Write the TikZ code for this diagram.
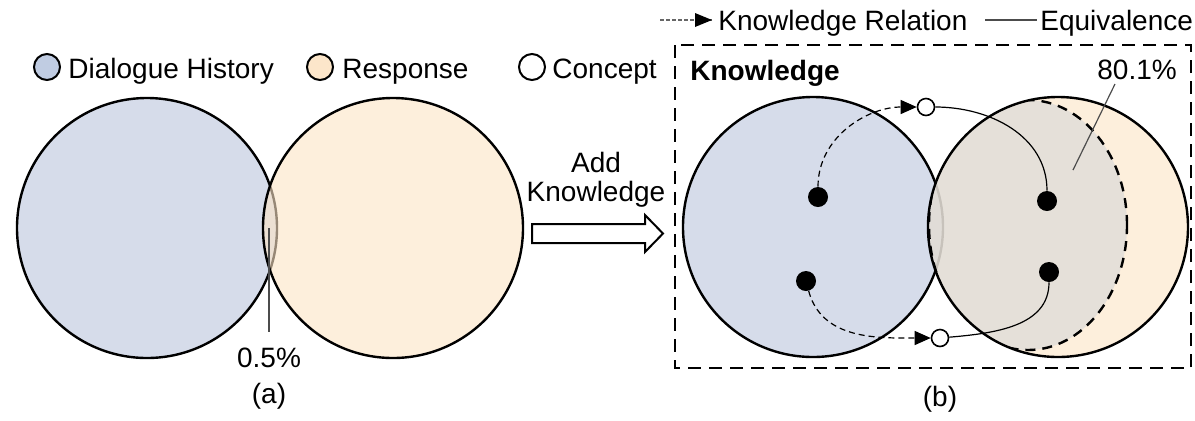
\documentclass[tikz,border=0pt]{standalone}
\usepackage{fontspec}
\setmainfont{Liberation Sans}
\usetikzlibrary{arrows.meta,positioning,calc}

\definecolor{histfill}{RGB}{214,220,234}
\definecolor{respfill}{RGB}{252,228,197}
\definecolor{kfill}{RGB}{220,219,217}
\definecolor{histmark}{RGB}{192,204,226}
\definecolor{respmark}{RGB}{252,230,202}

\tikzset{
  setline/.style={line width=1.2pt},
  keydot/.style={circle, fill=black, inner sep=0pt, minimum size=10pt},
  concept/.style={circle, draw=black, line width=0.8pt, fill=white, inner sep=0pt, minimum size=8.5pt},
  relation/.style={line width=0.6pt, dash pattern=on 3pt off 2pt, -{Triangle[length=8pt,width=7pt]}},
  equiv/.style={line width=0.6pt},
  legmark/.style={circle, draw=black, line width=1pt, inner sep=0pt, minimum size=13pt},
  lbl/.style={font=\fontsize{14}{17}\selectfont, inner sep=0pt},
  pointer/.style={line width=0.6pt, black!70},
}

\begin{document}
\begin{tikzpicture}[x=0.5pt, y=-0.5pt]
    \useasboundingbox (0,0) rectangle (1195,420);

    % Legend
    \node[legmark, fill=histmark] (mh) at (47,67) {};
    \node[lbl, anchor=base west] (th) at (68,78) {Dialogue History};
    \node[legmark, fill=respmark] (mr) at (320,67) {};
    \node[lbl, anchor=base west] (tr) at (342,78) {Response};
    \node[legmark, fill=white] (mc) at (532,67) {};
    \node[lbl, anchor=base west] (tc) at (552,78) {Concept};

    \coordinate (la0) at (660,20);
    \coordinate (la1) at (712,20);
    \draw[line width=0.6pt, black!60, dash pattern=on 2pt off 1pt] (la0) -- (la1);
    \fill (la1) -- ++(-17,-7) -- ++(0,14) -- cycle;
    \node[lbl, anchor=base west] (krel) at (718,30) {Knowledge Relation};
    \coordinate (le0) at (985,20);
    \coordinate (le1) at (1037,20);
    \draw[line width=0.6pt, black!70] (le0) -- (le1);
    \node[lbl, anchor=base west] (teq) at (1040,30) {Equivalence};

    % (a) without knowledge
    \coordinate (ha) at (147,228);
    \coordinate (ra) at (393,228);
    \fill[histfill] (ha) circle[radius=65pt];
    \draw[setline] (ha) circle[radius=65pt];
    \fill[respfill, fill opacity=0.6] (ra) circle[radius=65pt];
    \draw[setline] (ra) circle[radius=65pt];

    \coordinate (pa0) at (269,228);
    \coordinate (pa1) at (269,332);
    \draw[pointer] (pa0) -- (pa1);
    \node[lbl, anchor=base] (half) at (269,367) {0.5\%};
    \node[lbl, anchor=base] (capa) at (269,403) {(a)};

    % Add knowledge arrow
    \draw[line width=1pt, fill=white] (532,224) -- (645,224) -- (645,215) -- (663,233.5)
      -- (645,252) -- (645,243) -- (532,243) -- cycle;
    \node[lbl, anchor=base] (tadd) at (596,172) {Add};
    \node[lbl, anchor=base] (tknow) at (596,201) {Knowledge};

    % (b) with knowledge
    \draw[setline, dash pattern=on 6.5pt off 4pt] (675,45) rectangle (1191,368);
    \node[lbl, anchor=base west, font=\fontsize{14}{17}\selectfont\bfseries] (tk) at (690,80) {Knowledge};

    \coordinate (hb) at (813,227);
    \coordinate (rb) at (1058,227);
    \coordinate (eb) at (1028,225);
    \fill[histfill] (hb) circle[radius=65pt];
    \draw[setline] (hb) circle[radius=65pt];
    \fill[respfill, fill opacity=0.6] (rb) circle[radius=65pt];
    \begin{scope}
      \clip (rb) circle[radius=65pt];
      \fill[kfill, fill opacity=0.7] (eb) ellipse[x radius=49.5pt, y radius=62.5pt];
      \draw[setline, dash pattern=on 5pt off 3.5pt] (eb) ellipse[x radius=49.5pt, y radius=62.5pt];
    \end{scope}
    \draw[setline] (rb) circle[radius=65pt];

    \node[lbl, anchor=base west] (pct) at (1097,79) {80.1\%};
    \coordinate (pb0) at (1115,84);
    \coordinate (pb1) at (1073,170);
    \draw[pointer] (pb0) -- (pb1);

    \node[keydot] (h1) at (818,197) {};
    \node[keydot] (h2) at (806,281) {};
    \node[keydot] (r1) at (1047,201) {};
    \node[keydot] (r2) at (1049,272) {};
    \node[concept] (c1) at (926,107) {};
    \node[concept] (c2) at (940,338) {};

    \draw[relation] (h1) to[out=90, in=180] (c1);
    \draw[equiv] (c1) to[out=0, in=90] (r1);
    \draw[relation] (h2) to[out=-75, in=180] (c2);
    \draw[equiv] (c2) to[out=5, in=-90] (r2);

    \node[lbl, anchor=base] (capb) at (940,406) {(b)};
  \end{tikzpicture}
\end{document}
